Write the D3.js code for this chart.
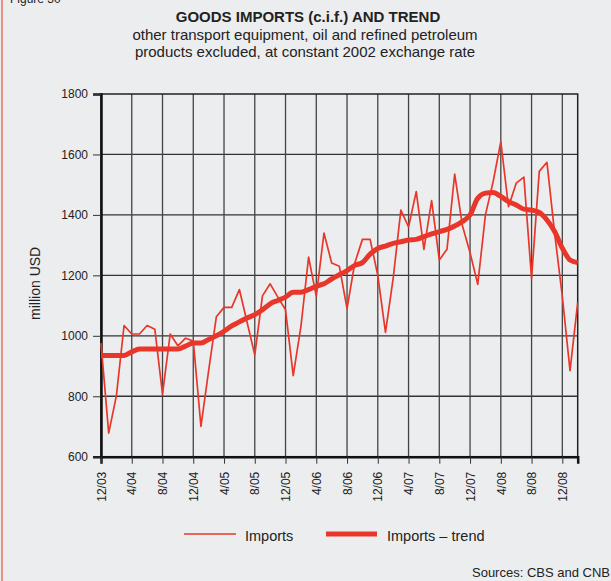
<!DOCTYPE html>
<html>
<head>
<meta charset="utf-8">
<script src="https://cdn.jsdelivr.net/npm/d3@7"></script>
<style>
  body { margin: 0; background: #ecedef; }
  svg { display: block; font-family: "Liberation Sans", Arial, sans-serif; }
</style>
</head>
<body>
<div id="wrapper"></div>
<script>
// monthly values, 12/03 .. 2/09
const imports = [976, 678, 801, 1034, 1006, 1006, 1034, 1022, 807, 1006, 967, 992, 983,
  700, 885, 1063, 1094, 1094, 1153, 1045, 937, 1132, 1172, 1128, 1086,
  868, 1030, 1260, 1131, 1340, 1241, 1230, 1090, 1240, 1319, 1319, 1200,
  1011, 1190, 1416, 1360, 1477, 1286, 1447, 1251, 1286, 1535, 1365, 1275,
  1170, 1400, 1510, 1642, 1427, 1505, 1525, 1190, 1544, 1574, 1340, 1130,
  885, 1110];
const trend = [935, 935, 935, 935, 947, 956, 956, 956, 956, 956, 956, 966, 976,
  976, 988, 1000, 1015, 1033, 1046, 1059, 1070, 1086, 1106, 1117, 1128,
  1144, 1144, 1153, 1164, 1172, 1188, 1202, 1216, 1233, 1242, 1270, 1289,
  1297, 1306, 1311, 1317, 1319, 1328, 1337, 1345, 1352, 1363, 1378, 1400,
  1455, 1472, 1474, 1461, 1444, 1433, 1419, 1416, 1408, 1383, 1345, 1290,
  1251, 1242];
const xTickLabels = ["12/03", "4/04", "8/04", "12/04", "4/05", "8/05", "12/05", "4/06",
  "8/06", "12/06", "4/07", "8/07", "12/07", "4/08", "8/08", "12/08"];
const yTicks = [600, 800, 1000, 1200, 1400, 1600, 1800];

const red = "#e8372a";
const width = 611, height = 581;
const plot = { left: 101, right: 577.7, top: 94, bottom: 456.7 };

const svg = d3.select("#wrapper").append("svg")
  .attr("width", width)
  .attr("height", height);

// page border + cut off figure caption
svg.append("line")
  .attr("x1", 2).attr("x2", 2).attr("y1", 0).attr("y2", height)
  .attr("stroke", "#e87064").attr("stroke-width", 1.5);
svg.append("text").attr("x", 10).attr("y", 3)
  .style("font-size", "12px").attr("fill", "#222").text("Figure 30");

// titles
svg.append("text").attr("x", 308).attr("y", 22)
  .attr("text-anchor", "middle").style("font-size", "15px").style("font-weight", "bold")
  .attr("fill", "#222").text("GOODS IMPORTS (c.i.f.) AND TREND");
svg.append("text").attr("x", 305).attr("y", 40)
  .attr("text-anchor", "middle").style("font-size", "15px").attr("fill", "#222")
  .text("other transport equipment, oil and refined petroleum");
svg.append("text").attr("x", 305).attr("y", 57)
  .attr("text-anchor", "middle").style("font-size", "15px").attr("fill", "#222")
  .text("products excluded, at constant 2002 exchange rate");

// scales
const xScale = d3.scaleLinear()
  .domain([0, imports.length - 1])
  .range([plot.left, plot.right]);
const yScale = d3.scaleLinear()
  .domain([600, 1800])
  .range([plot.bottom, plot.top]);

// grid
const grid = svg.append("g");
grid.selectAll(".hgrid").data(yTicks.slice(1, -1)).enter().append("line")
  .attr("x1", plot.left).attr("x2", plot.right)
  .attr("y1", d => yScale(d)).attr("y2", d => yScale(d))
  .attr("stroke", "#333").attr("stroke-width", 1.3);
grid.selectAll(".vgrid").data(xTickLabels.map((d, i) => i * 4).slice(1)).enter().append("line")
  .attr("x1", d => xScale(d)).attr("x2", d => xScale(d))
  .attr("y1", plot.top).attr("y2", plot.bottom)
  .attr("stroke", "#444").attr("stroke-width", 1.3);

// frame
svg.append("rect")
  .attr("x", plot.left).attr("y", plot.top)
  .attr("width", plot.right - plot.left).attr("height", plot.bottom - plot.top)
  .attr("fill", "none").attr("stroke", "#222").attr("stroke-width", 1.5);

// axes
const yAxis = svg.append("g")
  .attr("transform", `translate(${plot.left},0)`)
  .call(d3.axisLeft(yScale).tickValues(yTicks).tickFormat(d3.format("d")).tickSize(8).tickPadding(5));
yAxis.select(".domain").attr("stroke", "#111").attr("stroke-width", 2.5);
yAxis.selectAll(".tick line").attr("stroke", "#333");
yAxis.selectAll(".tick text").style("font-size", "12px").attr("fill", "#222");

const xAxis = svg.append("g")
  .attr("transform", `translate(0,${plot.bottom})`)
  .call(d3.axisBottom(xScale)
    .tickValues(xTickLabels.map((d, i) => i * 4))
    .tickFormat((d, i) => xTickLabels[i])
    .tickSize(7));
xAxis.select(".domain").attr("stroke", "#111").attr("stroke-width", 2.5);
xAxis.selectAll(".tick line").attr("stroke", "#333");
xAxis.selectAll(".tick text")
  .style("font-size", "12px").attr("fill", "#222")
  .attr("text-anchor", "end")
  .attr("transform", "rotate(-90)")
  .attr("x", -15).attr("y", 0).attr("dy", "0.35em");

svg.append("text")
  .attr("transform", `translate(40,${(plot.top + plot.bottom) / 2 + 8}) rotate(-90)`)
  .attr("text-anchor", "middle").style("font-size", "14px").attr("fill", "#222")
  .text("million USD");

// lines
const line = d3.line().x((d, i) => xScale(i)).y(d => yScale(d));
svg.append("path").datum(imports)
  .attr("d", line).attr("fill", "none")
  .attr("stroke", red).attr("stroke-width", 1.7).attr("stroke-linejoin", "round");
svg.append("path").datum(trend)
  .attr("d", line.curve(d3.curveMonotoneX)).attr("fill", "none")
  .attr("stroke", red).attr("stroke-width", 5).attr("stroke-linejoin", "round");

// legend
const legend = svg.append("g");
legend.append("line").attr("x1", 184).attr("x2", 236).attr("y1", 534).attr("y2", 534)
  .attr("stroke", red).attr("stroke-width", 1.7);
legend.append("text").attr("x", 245).attr("y", 540.5)
  .style("font-size", "14.5px").attr("fill", "#222").text("Imports");
legend.append("line").attr("x1", 326).attr("x2", 377).attr("y1", 534).attr("y2", 534)
  .attr("stroke", red).attr("stroke-width", 5);
legend.append("text").attr("x", 387).attr("y", 540.5)
  .style("font-size", "14.5px").attr("fill", "#222").text("Imports – trend");

svg.append("text").attr("x", 610).attr("y", 577)
  .attr("text-anchor", "end").style("font-size", "13px").attr("fill", "#222")
  .text("Sources: CBS and CNB");
</script>
</body>
</html>
